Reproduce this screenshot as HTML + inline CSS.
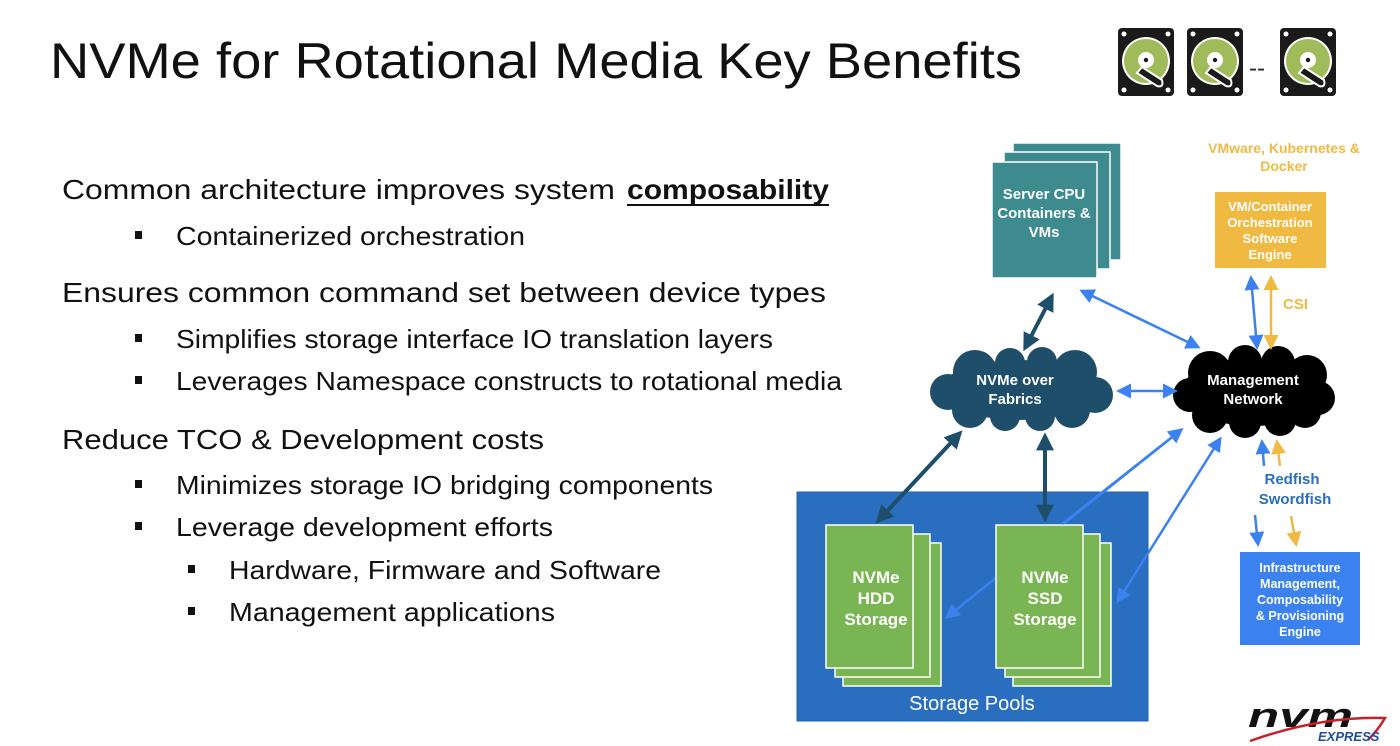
<!DOCTYPE html>
<html><head><meta charset="utf-8"><style>
html,body{margin:0;padding:0;background:#fff;}
svg{display:block;}
text{font-family:"Liberation Sans",sans-serif;}
</style></head><body>
<svg width="1400" height="746" viewBox="0 0 1400 746" xmlns="http://www.w3.org/2000/svg">
<defs>
<marker id="ad" viewBox="0 0 10 10" refX="8" refY="5" markerWidth="4.5" markerHeight="4.5" orient="auto-start-reverse"><path d="M0,0 L10,5 L0,10 z" fill="#1f4e6b"/></marker>
<marker id="ab" viewBox="0 0 10 10" refX="8" refY="5" markerWidth="6" markerHeight="6" orient="auto-start-reverse"><path d="M0,0 L10,5 L0,10 z" fill="#3b82f0"/></marker>
<marker id="ay" viewBox="0 0 10 10" refX="8" refY="5" markerWidth="6" markerHeight="6" orient="auto-start-reverse"><path d="M0,0 L10,5 L0,10 z" fill="#f0b942"/></marker>
<g id="hdd">
<rect x="0" y="0" width="56" height="68" rx="4" fill="#1a1a1a"/>
<circle cx="6" cy="6" r="2.5" fill="#fff"/><circle cx="50" cy="6" r="2.5" fill="#fff"/>
<circle cx="6" cy="62" r="2.5" fill="#fff"/><circle cx="50" cy="62" r="2.5" fill="#fff"/>
<circle cx="28" cy="33" r="24" fill="#fff"/><circle cx="28" cy="33" r="22" fill="#9fbb5a"/>
<circle cx="28" cy="32" r="8" fill="#fff"/><circle cx="28" cy="32" r="2.2" fill="#1a1a1a"/>
<path d="M19,45 L39,58 Q46,60 44,52 L24,39 z" fill="#1a1a1a" stroke="#fff" stroke-width="2"/>
</g>
</defs>

<text x="50" y="78" font-size="50" fill="#111" textLength="972" lengthAdjust="spacingAndGlyphs">NVMe for Rotational Media Key Benefits</text>

<use href="#hdd" x="1118" y="28"/>
<use href="#hdd" x="1187" y="28"/>
<use href="#hdd" x="1280" y="28"/>
<text x="1249" y="76" font-size="24" fill="#222">--</text>

<g fill="#111" font-size="28">
<text x="62" y="199" textLength="553" lengthAdjust="spacingAndGlyphs">Common architecture improves system</text>
<text x="627" y="199" font-weight="bold" textLength="202" lengthAdjust="spacingAndGlyphs">composability</text>
<rect x="627" y="204" width="202" height="2"/>
<text x="62" y="302" textLength="764" lengthAdjust="spacingAndGlyphs">Ensures common command set between device types</text>
<text x="62" y="449" textLength="482" lengthAdjust="spacingAndGlyphs">Reduce TCO &amp; Development costs</text>
</g>
<g fill="#111" font-size="26">
<rect x="135" y="231" width="7" height="8"/><text x="176" y="245" textLength="349" lengthAdjust="spacingAndGlyphs">Containerized orchestration</text>
<rect x="135" y="334" width="7" height="8"/><text x="176" y="348" textLength="597" lengthAdjust="spacingAndGlyphs">Simplifies storage interface IO translation layers</text>
<rect x="135" y="376" width="7" height="8"/><text x="176" y="390" textLength="666" lengthAdjust="spacingAndGlyphs">Leverages Namespace constructs to rotational media</text>
<rect x="135" y="480" width="7" height="8"/><text x="176" y="494" textLength="537" lengthAdjust="spacingAndGlyphs">Minimizes storage IO bridging components</text>
<rect x="135" y="522" width="7" height="8"/><text x="176" y="536" textLength="377" lengthAdjust="spacingAndGlyphs">Leverage development efforts</text>
<rect x="188" y="565" width="7" height="8"/><text x="229" y="579" textLength="432" lengthAdjust="spacingAndGlyphs">Hardware, Firmware and Software</text>
<rect x="188" y="607" width="7" height="8"/><text x="229" y="621" textLength="326" lengthAdjust="spacingAndGlyphs">Management applications</text>
</g>

<g stroke="#fff" stroke-width="1.5" fill="#3d8a8f">
<rect x="1013" y="143" width="108" height="117"/>
<rect x="1004" y="152" width="106" height="117"/>
<rect x="992" y="162" width="105" height="116"/>
</g>
<g fill="#fff" font-size="15" font-weight="bold" text-anchor="middle">
<text x="1044" y="199">Server CPU</text><text x="1044" y="218">Containers &amp;</text><text x="1044" y="237">VMs</text>
</g>

<g fill="#f0b942" font-size="14" font-weight="bold" text-anchor="middle">
<text x="1284" y="153">VMware, Kubernetes &amp;</text><text x="1284" y="171">Docker</text>
</g>
<rect x="1215" y="192" width="111" height="76" fill="#f0b942"/>
<g fill="#fff" font-size="13" font-weight="bold" text-anchor="middle">
<text x="1270" y="211">VM/Container</text><text x="1270" y="227">Orchestration</text><text x="1270" y="243">Software</text><text x="1270" y="259">Engine</text>
</g>
<text x="1283" y="309" fill="#f0b942" font-size="15" font-weight="bold">CSI</text>

<rect x="797" y="492" width="351" height="229" fill="#2a6ebf" stroke="#2060b0"/>
<text x="972" y="710" fill="#fff" font-size="20" text-anchor="middle">Storage Pools</text>

<line x1="947" y1="617" x2="1181" y2="430" stroke="#3b82f0" stroke-width="2.5" marker-start="url(#ab)" marker-end="url(#ab)"/>

<g stroke="#fff" stroke-width="1.5" fill="#7ab553">
<rect x="843" y="543" width="98" height="143"/>
<rect x="835" y="534" width="95" height="143"/>
<rect x="826" y="525" width="87" height="143"/>
<rect x="1013" y="543" width="98" height="143"/>
<rect x="1005" y="534" width="95" height="143"/>
<rect x="996" y="525" width="87" height="143"/>
</g>
<g fill="#fff" font-size="17" font-weight="bold" text-anchor="middle">
<text x="876" y="583">NVMe</text><text x="876" y="604">HDD</text><text x="876" y="625">Storage</text>
<text x="1045" y="583">NVMe</text><text x="1045" y="604">SSD</text><text x="1045" y="625">Storage</text>
</g>
<line x1="1062" y1="524" x2="1181" y2="430" stroke="#3b82f0" stroke-width="2.5" marker-end="url(#ab)"/>
<line x1="1118" y1="601" x2="1220" y2="439" stroke="#3b82f0" stroke-width="2.5" marker-start="url(#ab)" marker-end="url(#ab)"/>

<g fill="#1f4e6b">
<ellipse cx="1020" cy="390" rx="80" ry="30"/>
<circle cx="975" cy="372" r="22"/><circle cx="1010" cy="363" r="15"/><circle cx="1042" cy="362" r="15"/><circle cx="1075" cy="372" r="22"/>
<circle cx="948" cy="392" r="18"/><circle cx="1095" cy="395" r="18"/>
<circle cx="970" cy="410" r="18"/><circle cx="1005" cy="416" r="15"/><circle cx="1040" cy="416" r="15"/><circle cx="1072" cy="410" r="18"/>
</g>
<g fill="#000">
<ellipse cx="1253" cy="392" rx="72" ry="34"/>
<circle cx="1210" cy="373" r="22"/><circle cx="1245" cy="362" r="17"/><circle cx="1278" cy="363" r="17"/><circle cx="1307" cy="375" r="20"/>
<circle cx="1190" cy="395" r="17"/><circle cx="1318" cy="398" r="17"/>
<circle cx="1210" cy="415" r="18"/><circle cx="1245" cy="422" r="16"/><circle cx="1280" cy="420" r="16"/><circle cx="1305" cy="412" r="16"/>
</g>
<g fill="#fff" font-size="15" font-weight="bold" text-anchor="middle">
<text x="1015" y="385">NVMe over</text><text x="1015" y="404">Fabrics</text>
<text x="1253" y="385">Management</text><text x="1253" y="404">Network</text>
</g>

<g stroke="#1f4e6b" stroke-width="4" fill="none">
<line x1="1052" y1="296" x2="1025" y2="348" marker-start="url(#ad)" marker-end="url(#ad)"/>
<line x1="960" y1="433" x2="878" y2="521" marker-start="url(#ad)" marker-end="url(#ad)"/>
<line x1="1045" y1="436" x2="1045" y2="519" marker-start="url(#ad)" marker-end="url(#ad)"/>
</g>
<g stroke="#3b82f0" stroke-width="2.5" fill="none">
<line x1="1082" y1="291" x2="1198" y2="347" marker-start="url(#ab)" marker-end="url(#ab)"/>
<line x1="1119" y1="391" x2="1175" y2="391" marker-start="url(#ab)" marker-end="url(#ab)"/>
<line x1="1251" y1="278" x2="1257" y2="347" marker-start="url(#ab)" marker-end="url(#ab)"/>
<line x1="1264" y1="466" x2="1262" y2="442" marker-end="url(#ab)"/>
<line x1="1255" y1="515" x2="1258" y2="544" marker-end="url(#ab)"/>
</g>
<g stroke="#f0b942" stroke-width="2.5" fill="none">
<line x1="1271" y1="278" x2="1271" y2="347" marker-start="url(#ay)" marker-end="url(#ay)"/>
<line x1="1280" y1="466" x2="1277" y2="442" marker-end="url(#ay)"/>
<line x1="1291" y1="516" x2="1296" y2="544" marker-end="url(#ay)"/>
</g>
<g fill="#2a6ebf" font-size="15" font-weight="bold" text-anchor="middle">
<text x="1292" y="484">Redfish</text><text x="1295" y="504">Swordfish</text>
</g>

<rect x="1240" y="552" width="120" height="93" fill="#3b82f0"/>
<g fill="#fff" font-size="12.5" font-weight="bold" text-anchor="middle">
<text x="1300" y="572">Infrastructure</text><text x="1300" y="588">Management,</text><text x="1300" y="604">Composability</text><text x="1300" y="620">&amp; Provisioning</text><text x="1300" y="636">Engine</text>
</g>

<text x="1248" y="727" font-size="34" font-weight="bold" font-style="italic" fill="#111" textLength="105" lengthAdjust="spacingAndGlyphs">nvm</text>
<path d="M1250,741 Q1320,716 1385,718 Q1378,730 1368,740" fill="none" stroke="#c8202a" stroke-width="2.5"/>
<text x="1318" y="741" font-size="13" font-weight="bold" font-style="italic" fill="#1f4e9b">EXPRESS</text>
</svg>
</body></html>
